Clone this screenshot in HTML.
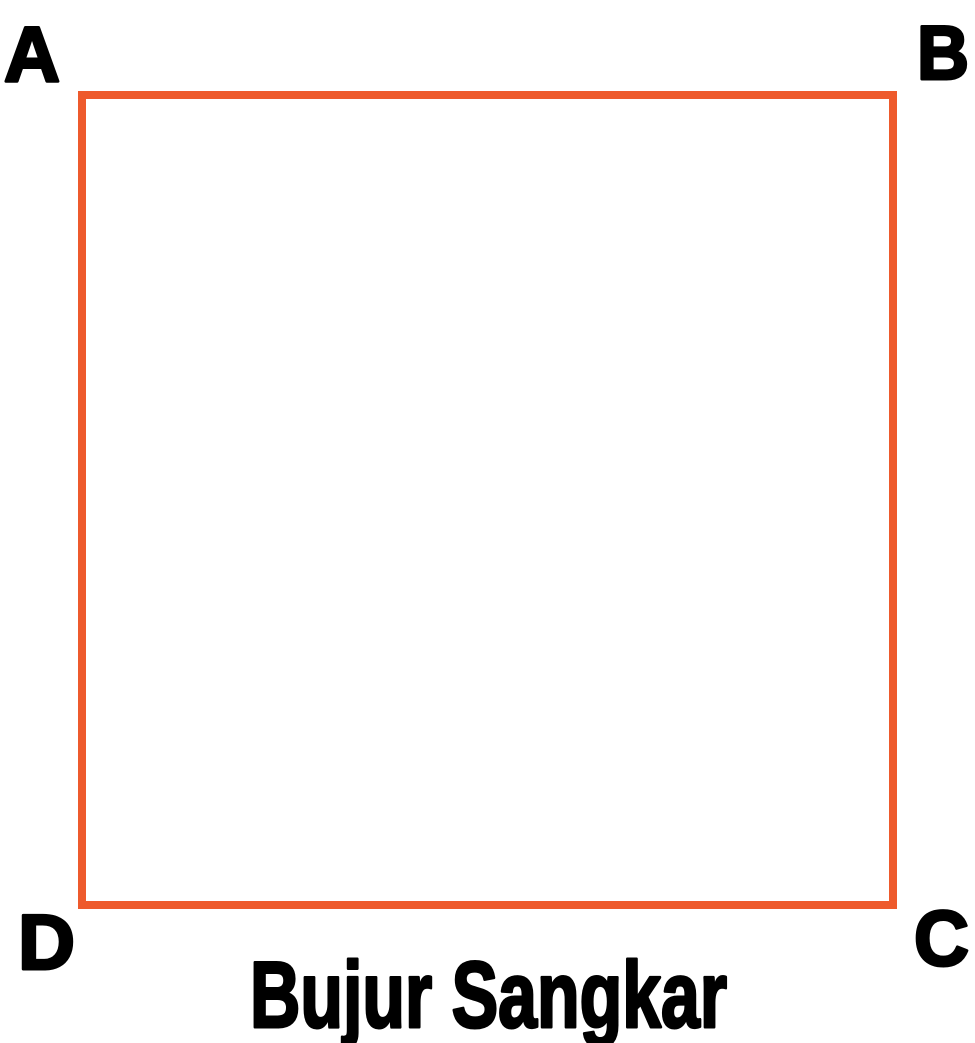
<!DOCTYPE html>
<html><head><meta charset="utf-8"><style>html,body{margin:0;padding:0;background:#fff;}svg{display:block}</style></head>
<body>
<svg width="975" height="1043" viewBox="0 0 975 1043">
  <rect x="82" y="95" width="811" height="810" fill="none" stroke="#EE5A2C" stroke-width="8"/>
  <g font-family="'Liberation Sans', sans-serif" font-weight="bold" fill="#000" stroke="#000" stroke-width="3" stroke-linejoin="round">
    <text x="4" y="81" font-size="78" textLength="56" lengthAdjust="spacingAndGlyphs">A</text>
    <text x="917" y="79" font-size="76" textLength="52" lengthAdjust="spacingAndGlyphs">B</text>
    <text x="914" y="965" font-size="78" textLength="55" lengthAdjust="spacingAndGlyphs">C</text>
    <text x="18" y="969" font-size="78" textLength="57" lengthAdjust="spacingAndGlyphs">D</text>
    <text x="250" y="1027" font-size="94" textLength="477" lengthAdjust="spacingAndGlyphs">Bujur Sangkar</text>
  </g>
</svg>
</body></html>
